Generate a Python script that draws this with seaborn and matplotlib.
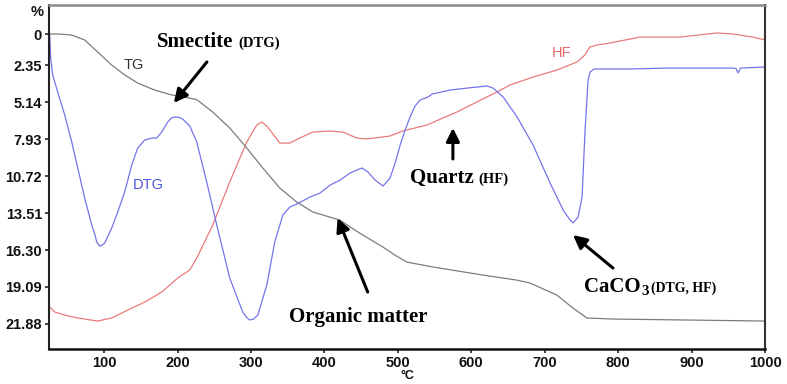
import matplotlib
matplotlib.use("Agg")
import matplotlib.pyplot as plt
from matplotlib.transforms import offset_copy
import seaborn as sns
import pandas as pd

# ---------------- data ----------------
tg_temp = [25, 39.6, 55.9, 73.6, 91.3, 110.4, 128.1, 145.8, 168.9, 192.1, 203.0,
           226.2, 248.0, 271.1, 294.3, 316.1, 339.2, 362.4, 384.2, 421.0, 447.9,
           479.5, 496.0, 512.2, 547.7, 615.8, 662.1, 679.8, 716.6, 738.4, 757.5,
           792.9, 1000]
tg_loss = [0.0, 0.0, 0.08, 0.45, 1.36, 2.34, 3.09, 3.70, 4.23, 4.60, 4.68,
           4.95, 5.89, 7.09, 8.60, 10.11, 11.62, 12.68, 13.43, 14.04, 15.02,
           16.07, 16.68, 17.21, 17.58, 18.19, 18.57, 18.79, 19.70, 20.68, 21.43,
           21.51, 21.66]

dtg_temp = [26.0, 27.3, 30.0, 36.9, 46.4, 56.0, 64.1, 73.6, 83.2, 87.3, 90.0, 94.1,
            96.9, 100.9, 110.4, 118.6, 128.1, 137.7, 145.8, 155.4, 164.9, 171.7,
            178.5, 186.7, 191.5, 196.2, 201.7, 207.1, 216.7, 226.2, 239.8, 253.4,
            271.1, 288.8, 294.3, 298.4, 303.8, 309.3, 321.6, 332.4, 343.4, 352.8,
            362.4, 380.5, 394.1, 407.8, 421.4, 435.0, 444.5, 451.3, 459.5, 469.0,
            479.9, 489.5, 497.6, 503.1, 509.9, 516.7, 523.5, 530.3, 541.2, 546.7,
            571.2, 594.4, 621.6, 629.8, 643.4, 662.4, 684.2, 707.4, 725.1, 734.6,
            738.7, 745.5, 750.9, 755.0, 759.1, 761.8, 767.2, 816.3, 866.7, 956.6,
            960.5, 963.4, 966.5, 1000]
dtg_val = [0.08, 1.81, 3.09, 4.38, 6.11, 8.15, 10.11, 12.38, 14.41, 15.10, 15.70, 16.0,
           15.95, 15.77, 14.64, 13.43, 11.92, 9.89, 8.60, 8.0, 7.85, 7.85,
           7.40, 6.64, 6.35, 6.26, 6.28, 6.42, 6.94, 8.15, 11.17, 14.41,
           18.41, 20.98, 21.40, 21.58, 21.51, 21.21, 18.94, 15.70, 13.66, 13.06,
           12.83, 12.30, 12.0, 11.40, 11.02, 10.49, 10.26, 10.11, 10.42, 11.02,
           11.47, 10.87, 9.51, 8.38, 7.25, 6.26, 5.43, 4.98, 4.75, 4.53,
           4.23, 4.08, 3.92, 4.08, 4.75, 6.26, 8.38, 11.25, 13.28, 14.04,
           14.26, 13.81, 12.30, 7.25, 3.47, 2.87, 2.64, 2.64, 2.57, 2.57,
           2.60, 2.94, 2.57, 2.49]

hf_temp = [26.0, 32.8, 46.4, 64.1, 91.3, 110.4, 132.2, 155.4, 178.5, 200.3, 216.7,
           226.2, 248.0, 271.1, 294.3, 307.9, 314.7, 322.9, 339.2, 352.8, 366.5,
           384.2, 407.4, 425.1, 444.2, 457.8, 489.1, 506.8, 539.5, 561.3, 580.4,
           607.6, 634.9, 652.6, 684.0, 716.6, 743.9, 754.8, 761.6, 771.2, 788.9,
           816.1, 829.7, 884.2, 934.6, 956.4, 983.6, 1000]
hf_val = [20.60, 20.98, 21.21, 21.43, 21.66, 21.43, 20.83, 20.23, 19.47, 18.41, 17.81,
          16.91, 14.41, 11.17, 8.15, 6.87, 6.64, 7.02, 8.23, 8.23, 7.85,
          7.40, 7.32, 7.40, 7.85, 7.92, 7.70, 7.32, 6.87, 6.34, 5.89,
          5.13, 4.38, 3.85, 3.25, 2.72, 2.11, 1.58, 0.98, 0.83, 0.68,
          0.38, 0.23, 0.23, -0.08, 0.0, 0.23, 0.45]

y_ticks = [0, 2.35, 5.14, 7.93, 10.72, 13.51, 16.30, 19.09, 21.88]
y_tick_labels = ["0", "2.35", "5.14", "7.93", "10.72", "13.51", "16.30", "19.09", "21.88"]
x_ticks = [100, 200, 300, 400, 500, 600, 700, 800, 900, 1000]

# ---------------- style ----------------
sns.set_theme(style="white")
plt.rcParams["font.family"] = ["Liberation Sans", "DejaVu Sans"]

W, H = 787, 384
fig = plt.figure(figsize=(W / 100, H / 100), dpi=100)
ax = fig.add_axes([49 / W, 1 - 349 / H, (765 - 49) / W, (349 - 5) / H])

tg_df = pd.DataFrame({"T": tg_temp, "v": tg_loss})
dtg_df = pd.DataFrame({"T": dtg_temp, "v": dtg_val})
hf_df = pd.DataFrame({"T": hf_temp, "v": hf_val})

sns.lineplot(data=hf_df, x="T", y="v", ax=ax, color="#ea7b7b", lw=0.9, estimator=None)
sns.lineplot(data=tg_df, x="T", y="v", ax=ax, color="#7c7c7c", lw=0.9, estimator=None)
sns.lineplot(data=dtg_df, x="T", y="v", ax=ax, color="#7474ea", lw=0.9, estimator=None)

ax.set_xlim(25, 1000)
ax.set_ylim(23.77, -2.19)
ax.set_xticks(x_ticks)
ax.set_xticklabels([str(t) for t in x_ticks])
ax.set_yticks(y_ticks)
ax.set_yticklabels(y_tick_labels)
ax.tick_params(axis="both", which="major", direction="out", length=3, width=1.2,
               color="#222222", labelsize=10.5, pad=2, left=True, bottom=True)
for lab in ax.get_xticklabels() + ax.get_yticklabels():
    lab.set_fontweight("bold")
    lab.set_color("#111111")
ax.set_xlabel("°C", fontsize=9, fontweight="bold", labelpad=0, color="#111111")
ax.set_ylabel("")
ax.text(-0.016, 0.98, "%", transform=ax.transAxes, ha="center", va="center",
        fontsize=10.5, fontweight="bold", color="#111111")

ax.spines["left"].set_color("#222222")
ax.spines["left"].set_linewidth(1.5)
ax.spines["bottom"].set_color("#111111")
ax.spines["bottom"].set_linewidth(1.8)
ax.spines["top"].set_color("#8a8a8a")
ax.spines["top"].set_linewidth(1.8)
ax.spines["right"].set_color("#333333")
ax.spines["right"].set_linewidth(1.5)

# series labels
ax.text(127, 2.64, "TG", fontsize=10.5, color="#333333", va="baseline", ha="left")
ax.text(139, 11.7, "DTG", fontsize=10.5, color="#4a57dc", va="baseline", ha="left")
ax.text(710, 1.74, "HF", fontsize=10.5, color="#e86868", va="baseline", ha="left")

# annotations
renderer = fig.canvas.get_renderer()
serif = ["Liberation Serif", "DejaVu Serif"]


def rich(x, y, parts):
    dx = 0.0
    for s, size, dy, gap in parts:
        dx += gap
        t = ax.text(x, y, s, fontsize=size, fontweight="bold", family=serif,
                    color="black", va="baseline", ha="left",
                    transform=offset_copy(ax.transData, fig=fig, x=dx, y=dy, units="dots"))
        dx += t.get_window_extent(renderer).width


rich(172, 0.98, [("Smectite", 15, 0, 0), ("(DTG)", 10.5, 0, 5)])
rich(516, 11.24, [("Quartz", 15, 0, 0), ("(HF)", 10.5, 0, 5)])
rich(352, 21.74, [("Organic matter", 15, 0, 0)])
rich(754, 19.47, [("CaCO", 15, 0, 0), ("3", 11, -3, 0), ("(DTG, HF)", 10, 0, 3)])

arrow = dict(arrowstyle="-|>", lw=2.2, mutation_scale=20, color="black",
             shrinkA=0, shrinkB=0)
ax.annotate("", xy=(195, 5.2), xytext=(240, 2.11), arrowprops=arrow)
ax.annotate("", xy=(575, 7.09), xytext=(575, 9.43), arrowprops=arrow)
ax.annotate("", xy=(418, 13.89), xytext=(459, 19.47), arrowprops=arrow)
ax.annotate("", xy=(738.6, 15.17), xytext=(793, 17.66), arrowprops=arrow)

fig.savefig("out.png", dpi=100)
